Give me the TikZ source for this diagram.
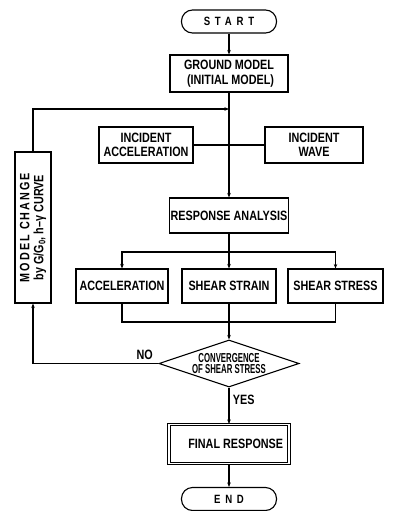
\documentclass[tikz,border=0pt]{standalone}
\usepackage{fontspec}
\newfontfamily\flowfont{Liberation Sans}[FakeStretch=0.8]
\newfontfamily\narrowfont{Liberation Sans}[FakeStretch=0.6]
\usetikzlibrary{shapes.geometric,arrows.meta}

\begin{document}
\begin{tikzpicture}[x=1pt, y=-1pt, line width=1.1pt,
    >={Stealth[length=4.5pt, width=3.5pt]},
    every node/.style={font=\flowfont\bfseries\fontsize{13.5}{14.5}\selectfont},
    box/.style={draw, line width=1.1pt, rectangle, align=center, inner sep=1pt},
    term/.style={draw, line width=1.1pt, rectangle, rounded corners=11pt,
      minimum width=95pt, minimum height=23pt, inner sep=0pt},
    wide/.style={font=\flowfont\bfseries\fontsize{12}{13}\selectfont\addfontfeature{LetterSpace=40}}]
  \useasboundingbox (0,0) rectangle (394,511);

  % Start and ground model
  \node[term, wide] (start) at (229, 21.5) {START};
  \node[box, minimum width=118pt, minimum height=37pt] (ground) at (229, 73.5) {GROUND MODEL\\ \ (INITIAL MODEL)};

  % Input
  \node[box, minimum width=94pt, minimum height=36pt] (incacc) at (146, 145) {INCIDENT\\ACCELERATION};
  \node[box, minimum width=98pt, minimum height=36pt] (incwave) at (314, 145) {INCIDENT\\WAVE};

  % Analysis
  \node[box, minimum width=118pt, minimum height=35pt] (resp) at (229, 215.5) {RESPONSE ANALYSIS};

  % Results
  \node[box, minimum width=92pt, minimum height=34pt] (accel) at (122, 286) {ACCELERATION};
  \node[box, minimum width=94pt, minimum height=34pt] (strain) at (229, 286) {SHEAR STRAIN};
  \node[box, minimum width=95pt, minimum height=34pt] (stress) at (335.5, 286) {SHEAR STRESS};

  % Check
  \node[draw, line width=1.1pt, diamond, aspect=3, minimum width=140pt, minimum height=47pt, inner sep=0pt, align=center,
    font=\narrowfont\bfseries\fontsize{13}{11.5}\selectfont] (conv) at (229, 363.5) {CONVERGENCE\\OF SHEAR STRESS};

  % Model change
  \node[box, rotate=90, minimum width=151pt, minimum height=36pt, inner sep=0pt,
    font=\flowfont\bfseries\fontsize{13.5}{14}\selectfont] (model) at (33, 227.5)
    {{\addfontfeature{LetterSpace=15}MODEL CHANGE}\\by G/G\textsubscript{0}, h–γ CURVE};

  % End
  \node[box, double, double distance=1.5pt, minimum width=120pt, minimum height=39pt] (final) at (229, 444) {\quad FINAL RESPONSE};
  \node[term, wide] (end) at (229, 499) {END};

  \coordinate (fb) at (229, 109);
  \coordinate (split) at (229, 252);
  \coordinate (join) at (229, 322);

  % Arrows
  \draw[->] (start) -- (ground);
  \draw[->] (ground) -- (resp);
  \draw (incacc) -- (incwave);
  \draw[->] (model.east) |- (fb);
  \draw (resp) -- (split);
  \draw[->] (split) -- (strain);
  \draw[->] (split) -| (accel.north);
  \draw[->] (split) -| (stress.north);
  \draw (accel.south) |- (join);
  \draw (stress.south) |- (join);
  \draw (strain) -- (join);
  \draw[->] (join) -- (conv.north);
  \draw[->] (conv.west) -| node[pos=0.055, above] {NO} (model.west);
  \draw[->] (conv.south) -- node[right, pos=0.35] {YES} (final);
  \draw[->] (final) -- (end);
\end{tikzpicture}
\end{document}
